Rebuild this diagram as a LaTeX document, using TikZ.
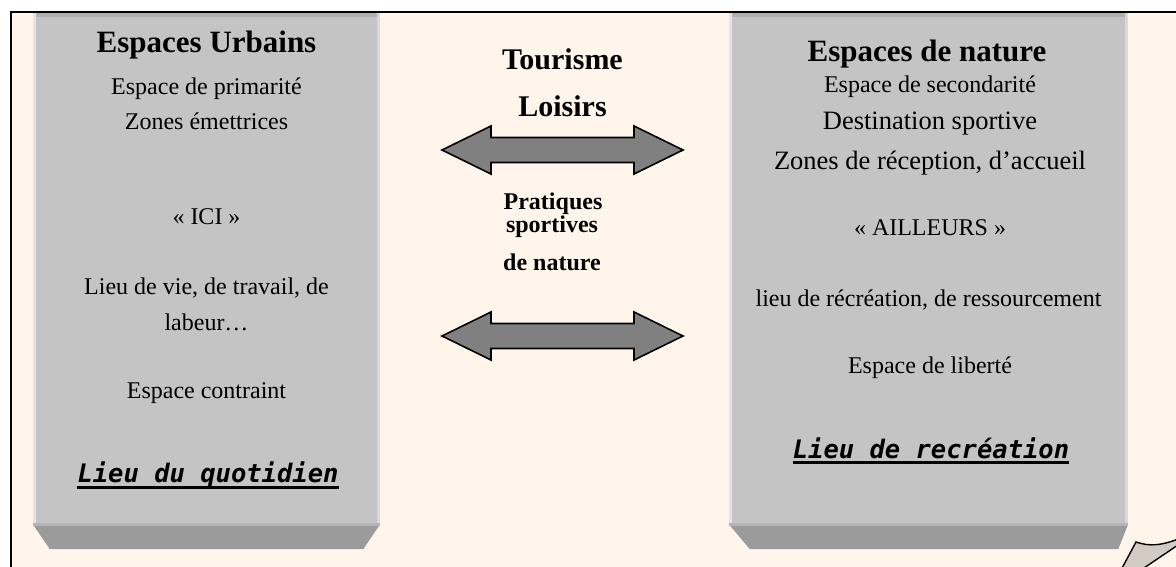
\documentclass[tikz,border=0pt]{standalone}
\usepackage{fontspec}
\setmainfont{Liberation Serif}
\newfontfamily\lieufont[ItalicFont={* Oblique},BoldFont={* Bold},BoldItalicFont={* Bold Oblique}]{DejaVu Sans Mono}
\definecolor{cream}{HTML}{FFF5EB}
\definecolor{boxface}{HTML}{C4C4C4}
\definecolor{boxtop}{HTML}{B0B0B0}
\definecolor{boxleft}{HTML}{E4E4E4}
\definecolor{boxright}{HTML}{D9D9D9}
\definecolor{bevel}{HTML}{9B9B9B}
\definecolor{bevelline}{HTML}{B5B5B5}
\definecolor{arrowgray}{HTML}{808080}
\definecolor{curl}{HTML}{D3CBC3}
\begin{document}
\begin{tikzpicture}[x=1pt,y=-1pt,
  txt/.style={anchor=base,inner sep=0pt,font=\fontsize{24}{28}\selectfont},
  big/.style={anchor=base,inner sep=0pt,font=\fontsize{26.5}{30}\selectfont},
  ttl/.style={anchor=base,inner sep=0pt,font=\fontsize{31}{36}\selectfont\bfseries},
  midttl/.style={anchor=base,inner sep=0pt,font=\fontsize{30}{36}\selectfont\bfseries},
  midtxt/.style={anchor=base,inner sep=0pt,font=\fontsize{24}{28}\selectfont\bfseries},
  lieu/.style={anchor=base,inner sep=0pt,font=\fontsize{25.5}{30}\selectfont\lieufont\bfseries\itshape},
  uline/.style={line width=2.5pt},
  facebox/.style={fill=boxface,inner sep=0pt,draw=none},
  blockarrow/.style={fill=arrowgray,draw=black,line width=1.6pt,line join=miter}]
\useasboundingbox (0,0) rectangle (1176,567);
\clip (0,0) rectangle (1176,567);
\fill[white] (0,0) rectangle (1176,567);
\draw[line width=2pt,fill=cream] (11,12) rectangle (1200,600);

% left box
\node[facebox,minimum width=347pt,minimum height=511pt] (urb) at (206.5,268.5) {};
\fill[boxtop] (urb.north west) rectangle ([yshift=-4pt]urb.north east);
\fill[boxleft] (urb.north west) rectangle ([xshift=3pt]urb.south west);
\fill[boxright] ([xshift=-3pt]urb.north east) rectangle (urb.south east);
\fill[bevel] (urb.south west) -- (urb.south east) -- ([xshift=-17pt,yshift=-25pt]urb.south east) -- ([xshift=17pt,yshift=-25pt]urb.south west) -- cycle;
\fill[bevelline] ([yshift=1pt]urb.south west) rectangle ([yshift=-2pt]urb.south east);

% right box
\node[facebox,minimum width=399pt,minimum height=511pt] (nat) at (928.5,268.5) {};
\fill[boxtop] (nat.north west) rectangle ([yshift=-4pt]nat.north east);
\fill[boxleft] (nat.north west) rectangle ([xshift=3pt]nat.south west);
\fill[boxright] ([xshift=-3pt]nat.north east) rectangle (nat.south east);
\fill[bevel] (nat.south west) -- (nat.south east) -- ([xshift=-10pt,yshift=-25pt]nat.south east) -- ([xshift=21pt,yshift=-25pt]nat.south west) -- cycle;
\fill[bevelline] ([yshift=1pt]nat.south west) rectangle ([yshift=-2pt]nat.south east);

% left texts
\node[ttl] (u1) at (206.5,53) {Espaces Urbains};
\node[txt] (u2) at (206.5,95) {Espace de primarité};
\node[txt] (u3) at (206.5,130) {Zones émettrices};
\node[txt] (u4) at (206.5,225) {«~ICI~»};
\node[txt] (u5) at (206.5,294) {Lieu de vie, de travail, de};
\node[txt] (u6) at (206.5,330) {labeur…};
\node[txt] (u7) at (206.5,398) {Espace contraint};
\node[lieu] (u8) at (208,482) {Lieu du quotidien};
\draw[uline] ([yshift=-5.5pt]u8.base west) -- ([yshift=-5.5pt]u8.base east);

% right texts
\node[ttl] (n1) at (927,62) {Espaces de nature};
\node[txt] (n2) at (930,93) {Espace de secondarité};
\node[big] (n3) at (930,130) {Destination sportive};
\node[big] (n4) at (930,170) {Zones de réception, d’accueil};
\node[txt] (n5) at (930,236) {«~AILLEURS~»};
\node[txt] (n6) at (928.5,306) {lieu de récréation, de ressourcement};
\node[txt] (n7) at (930,373) {Espace de liberté};
\node[lieu] (n8) at (931,458) {Lieu de recréation};
\draw[uline] ([yshift=-4.5pt]n8.base west) -- ([yshift=-4.5pt]n8.base east);

% middle texts
\node[midttl] (m1) at (562.5,70) {Tourisme};
\node[midttl] (m2) at (562.5,117) {Loisirs};
\node[midtxt] (m3) at (553,209) {Pratiques};
\node[midtxt] (m4) at (552,233) {sportives};
\node[midtxt] (m5) at (552,270) {de nature};

% block arrows
\coordinate (a1) at (562.5,150);
\coordinate (a2) at (562.5,336);
\foreach \c in {a1,a2}{
  \draw[blockarrow] ([xshift=-120.5pt]\c) -- ([xshift=-71.5pt,yshift=24pt]\c) -- ([xshift=-71.5pt,yshift=12.5pt]\c)
    -- ([xshift=71.5pt,yshift=12.5pt]\c) -- ([xshift=71.5pt,yshift=24pt]\c) -- ([xshift=120.5pt]\c)
    -- ([xshift=71.5pt,yshift=-24pt]\c) -- ([xshift=71.5pt,yshift=-12.5pt]\c) -- ([xshift=-71.5pt,yshift=-12.5pt]\c)
    -- ([xshift=-71.5pt,yshift=-24pt]\c) -- cycle;
}

% page curl
\filldraw[fill=curl,line width=1.4pt,line join=miter] (1121,570) -- (1136,542) .. controls (1150,547) and (1163,545) .. (1178,539) -- (1178,545) -- (1141,570);
\end{tikzpicture}
\end{document}
